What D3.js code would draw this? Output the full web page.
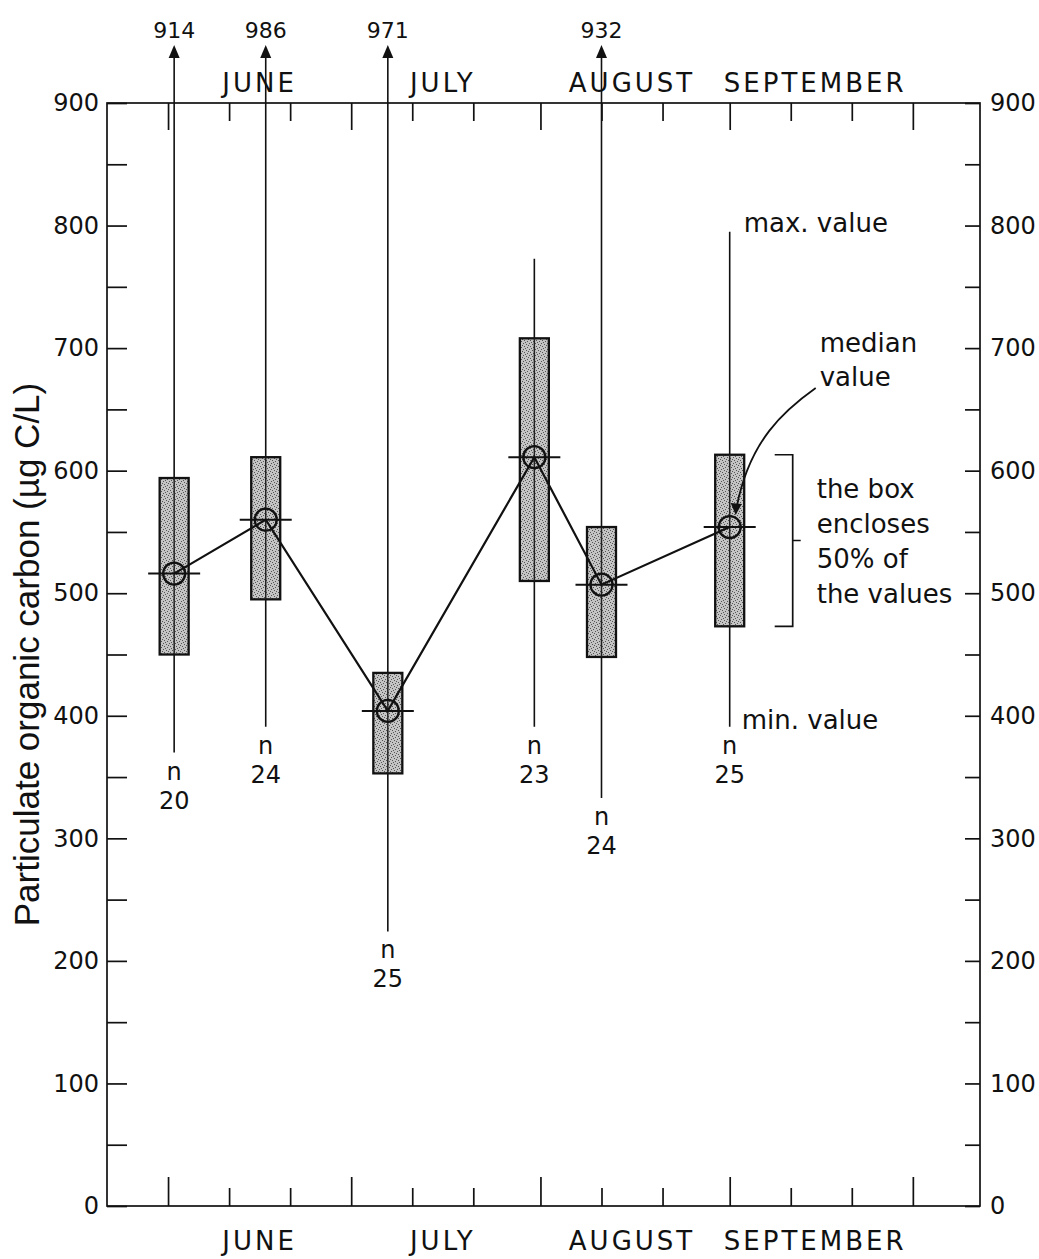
<!DOCTYPE html>
<html><head><meta charset="utf-8">
<script src="https://cdn.jsdelivr.net/npm/d3@7"></script>
<style>
body{margin:0;background:#fff}
text{font-family:"DejaVu Sans",sans-serif;fill:#111}
</style>
</head><body>
<svg id="chart" width="1039" height="1259"></svg>
<script>
// ---- data ----
const sampleDates   = ["2000-06-02","2000-06-17","2000-07-07","2000-07-31","2000-08-11","2000-09-01"];
const maxValues     = [914, 986, 971, 773, 932, 795];
const q3Values      = [594, 611, 435, 708, 554, 613];
const medianValues  = [516, 560, 404, 611, 507, 554];
const q1Values      = [450, 495, 353, 510, 448, 473];
const minValues     = [370, 391, 224, 391, 333, 391];
const sampleCounts  = [20, 24, 25, 23, 24, 25];
const monthLabels   = ["JUNE", "JULY", "AUGUST", "SEPTEMBER"];
const monthMidDates = ["2000-06-16", "2000-07-16", "2000-08-16", "2000-09-15"];
const yMajorTicks   = [0, 100, 200, 300, 400, 500, 600, 700, 800, 900];
const yMinorTicks   = [50, 150, 250, 350, 450, 550, 650, 750, 850];
const xDomain       = ["2000-05-22", "2000-10-12"];
const yTitle        = "Particulate organic carbon (µg C/L)";
const noteBox       = ["the box", "encloses", "50% of", "the values"];

const parse = d3.utcParse("%Y-%m-%d");
const data = sampleDates.map((d, i) => ({
  date: parse(d), max: maxValues[i], q3: q3Values[i], med: medianValues[i],
  q1: q1Values[i], min: minValues[i], n: sampleCounts[i]
}));

const L = 107, R = 980, T = 103, B = 1206;
const svg = d3.select("#chart");
const x = d3.scaleUtc().domain(xDomain.map(parse)).range([L, R]);
const y = d3.scaleLinear().domain([0, 900]).range([B, T]);

// pattern for stippled boxes
const defs = svg.append("defs");
const pat = defs.append("pattern").attr("id", "stip").attr("patternUnits", "userSpaceOnUse")
  .attr("width", 6).attr("height", 6);
pat.append("rect").attr("width", 6).attr("height", 6).attr("fill", "#c4c4c4");
[[1,1],[4,2],[2,4],[5,5],[0,3],[3,0]].forEach(p => pat.append("rect").attr("x", p[0]).attr("y", p[1])
  .attr("width", 1).attr("height", 1).attr("fill", "#555"));

// ---- x ticks (10-day) ----
const allTicks = [];
d3.utcMonth.range(parse("2000-06-01"), parse("2000-10-12")).forEach(m => {
  [1, 11, 21].forEach(dd => { const t = new Date(m); t.setUTCDate(dd);
    if (x(t) < R - 10) allTicks.push(t); });
});
const majorX = allTicks.filter(t => t.getUTCDate() === 1);
const minorX = allTicks.filter(t => t.getUTCDate() !== 1);

function styleAxis(g) {
  g.select(".domain").remove();
  g.selectAll(".tick line").attr("stroke", "#111").attr("stroke-width", 1.7);
}
svg.append("g").attr("transform", `translate(0,${B})`)
  .call(d3.axisBottom(x).tickValues(minorX).tickSize(-18).tickFormat("")).call(styleAxis);
svg.append("g").attr("transform", `translate(0,${B})`)
  .call(d3.axisBottom(x).tickValues(majorX).tickSize(-29).tickFormat("")).call(styleAxis);
svg.append("g").attr("transform", `translate(0,${T})`)
  .call(d3.axisTop(x).tickValues(minorX).tickSize(-18).tickFormat("")).call(styleAxis);
svg.append("g").attr("transform", `translate(0,${T})`)
  .call(d3.axisTop(x).tickValues(majorX).tickSize(-27).tickFormat("")).call(styleAxis);

// ---- y ticks ----
const yl = svg.append("g").attr("transform", `translate(${L},0)`)
  .call(d3.axisLeft(y).tickValues(yMajorTicks).tickSize(-20).tickPadding(8)).call(styleAxis);
yl.selectAll("text").attr("font-size", 24).attr("font-family", "DejaVu Sans").attr("fill", "#111");
svg.append("g").attr("transform", `translate(${L},0)`)
  .call(d3.axisLeft(y).tickValues(yMinorTicks).tickSize(-20).tickFormat("")).call(styleAxis);
const yr = svg.append("g").attr("transform", `translate(${R},0)`)
  .call(d3.axisRight(y).tickValues(yMajorTicks).tickSize(-15).tickPadding(10)).call(styleAxis);
yr.selectAll("text").attr("font-size", 24).attr("font-family", "DejaVu Sans").attr("fill", "#111");
svg.append("g").attr("transform", `translate(${R},0)`)
  .call(d3.axisRight(y).tickValues(yMinorTicks).tickSize(-15).tickFormat("")).call(styleAxis);

// frame
svg.append("rect").attr("x", L).attr("y", T).attr("width", R - L).attr("height", B - T)
  .attr("fill", "none").attr("stroke", "#111").attr("stroke-width", 1.7);

// month labels
monthLabels.forEach((m, i) => {
  const cx = x(parse(monthMidDates[i]));
  [T - 11, B + 44].forEach(yy => svg.append("text").attr("x", cx).attr("y", yy)
    .attr("text-anchor", "middle").attr("font-size", 26).attr("letter-spacing", 3).text(m));
});

// y title
svg.append("text").attr("transform", `translate(39,${(B + T) / 2}) rotate(-90)`)
  .attr("text-anchor", "middle").attr("font-size", 35)
  .style("font-family", "'Liberation Sans', Arial, sans-serif").text(yTitle);

// ---- whiskers ----
const arrowBase = T - 46, arrowTip = T - 58;
const boxW = 29;
const g = svg.append("g");
data.forEach(d => {
  const cx = x(d.date);
  const top = d.max > 900 ? arrowBase : y(d.max);
  g.append("line").attr("x1", cx).attr("x2", cx).attr("y1", top).attr("y2", y(d.min))
    .attr("stroke", "#111").attr("stroke-width", 1.6);
  if (d.max > 900) {
    g.append("path").attr("d", `M${cx},${arrowTip}L${cx - 5.5},${arrowBase + 1}L${cx + 5.5},${arrowBase + 1}Z`).attr("fill", "#111");
    g.append("text").attr("x", cx).attr("y", arrowTip - 7).attr("text-anchor", "middle")
      .attr("font-size", 22).text(d.max);
  }
  g.append("text").attr("x", cx).attr("y", y(d.min) + 27).attr("text-anchor", "middle").attr("font-size", 24).text("n");
  g.append("text").attr("x", cx).attr("y", y(d.min) + 56).attr("text-anchor", "middle").attr("font-size", 24).text(d.n);
});

// boxes
g.selectAll("rect.box").data(data).join("rect").attr("class", "box")
  .attr("x", d => x(d.date) - boxW / 2).attr("width", boxW)
  .attr("y", d => y(d.q3)).attr("height", d => y(d.q1) - y(d.q3))
  .attr("fill", "url(#stip)").attr("stroke", "#111").attr("stroke-width", 2.3);
// whisker through box
g.selectAll("line.inner").data(data).join("line").attr("class", "inner")
  .attr("x1", d => x(d.date)).attr("x2", d => x(d.date))
  .attr("y1", d => y(d.q3)).attr("y2", d => y(d.q1)).attr("stroke", "#222").attr("stroke-width", 1.5);

// median line connecting
g.append("path").datum(data)
  .attr("d", d3.line().x(d => x(d.date)).y(d => y(d.med)))
  .attr("fill", "none").attr("stroke", "#111").attr("stroke-width", 2.2);
// median markers
g.selectAll("line.med").data(data).join("line").attr("class", "med")
  .attr("x1", d => x(d.date) - 26).attr("x2", d => x(d.date) + 26)
  .attr("y1", d => y(d.med)).attr("y2", d => y(d.med)).attr("stroke", "#111").attr("stroke-width", 2);
g.selectAll("circle.med").data(data).join("circle").attr("class", "med")
  .attr("cx", d => x(d.date)).attr("cy", d => y(d.med)).attr("r", 11)
  .attr("fill", "none").attr("stroke", "#111").attr("stroke-width", 2.3);

// ---- annotations (anchored to last box) ----
const ref = data[data.length - 1];
const rx = x(ref.date);
svg.append("text").attr("x", rx + 14).attr("y", y(ref.max)).attr("font-size", 26).text("max. value");
svg.append("text").attr("x", rx + 12).attr("y", y(ref.min) + 2).attr("font-size", 26).text("min. value");
svg.append("text").attr("x", rx + 90).attr("y", 352).attr("font-size", 26).text("median");
svg.append("text").attr("x", rx + 90).attr("y", 386).attr("font-size", 26).text("value");
noteBox.forEach((t, i) => svg.append("text").attr("x", rx + 87).attr("y", 498 + i * 35)
  .attr("font-size", 26).text(t));
// bracket
const bx = rx + 63, by1 = y(ref.q3), by2 = y(ref.q1);
svg.append("path").attr("d", `M${bx - 18},${by1}H${bx}V${by2}H${bx - 18}M${bx},${(by1 + by2) / 2}H${bx + 8}`)
  .attr("fill", "none").attr("stroke", "#111").attr("stroke-width", 1.7);
// curved arrow to median
const ax = rx + 7, ay = y(ref.med) - 14;
svg.append("path").attr("d", `M${rx + 86},388 C${rx + 55},410 ${rx + 20},440 ${ax},${ay - 6}`)
  .attr("fill", "none").attr("stroke", "#111").attr("stroke-width", 1.8);
svg.append("path").attr("d", `M${ax - 1},${ay + 2}L${ax - 6},${ay - 10}L${ax + 5},${ay - 9}Z`).attr("fill", "#111");
</script>
</body></html>
